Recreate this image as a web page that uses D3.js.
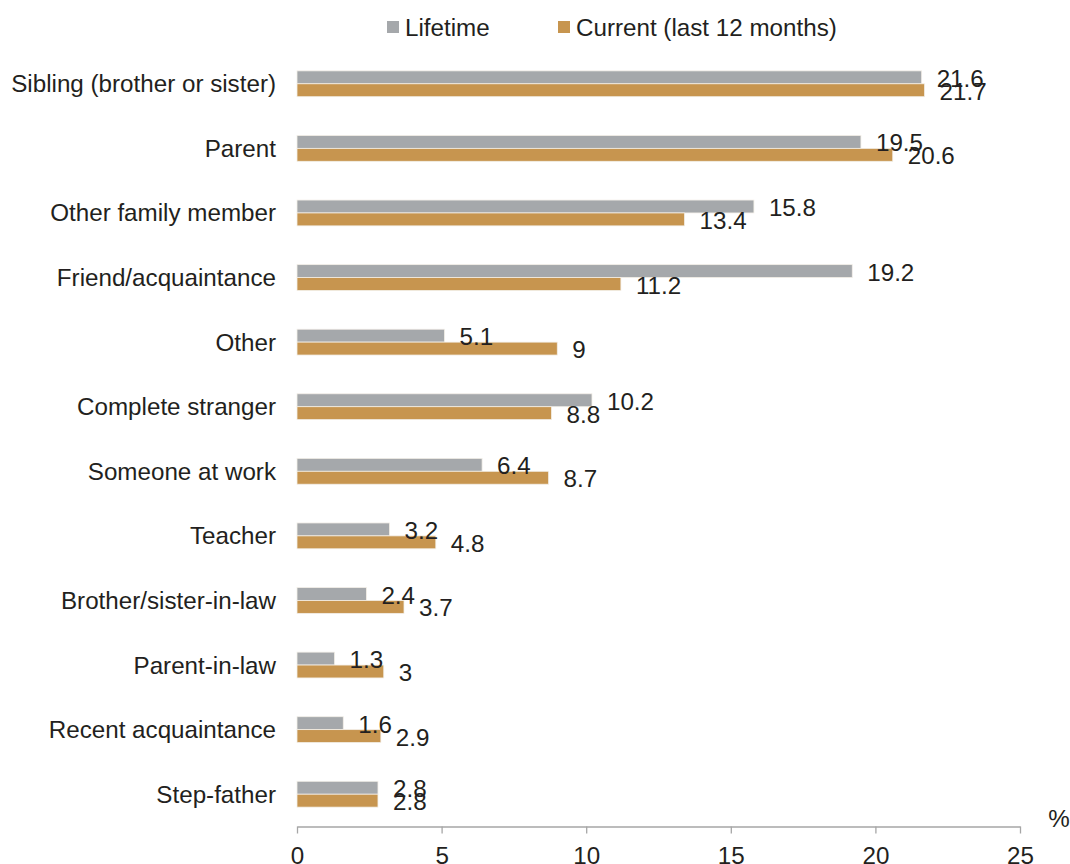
<!DOCTYPE html>
<html>
<head>
<meta charset="utf-8">
<script src="https://cdn.jsdelivr.net/npm/d3@7"></script>
<style>
  html, body { margin: 0; padding: 0; background: #fff; }
  svg { display: block; font-family: "Liberation Sans", Arial, sans-serif; }
</style>
</head>
<body>
<svg id="chart" width="1070" height="864"></svg>
<script>
// Perpetrator categories, top to bottom
const categories = [
  "Sibling (brother or sister)",
  "Parent",
  "Other family member",
  "Friend/acquaintance",
  "Other",
  "Complete stranger",
  "Someone at work",
  "Teacher",
  "Brother/sister-in-law",
  "Parent-in-law",
  "Recent acquaintance",
  "Step-father"
];
const lifetime = [21.6, 19.5, 15.8, 19.2, 5.1, 10.2, 6.4, 3.2, 2.4, 1.3, 1.6, 2.8];
const current  = [21.7, 20.6, 13.4, 11.2, 9, 8.8, 8.7, 4.8, 3.7, 3, 2.9, 2.8];
const seriesNames = ["Lifetime", "Current (last 12 months)"];
const xTicks = [0, 5, 10, 15, 20, 25];

const colors = ["#a5a8ab", "#c7954f"];
const textColor = "#231f20";
const fontSize = 24.2;

const svg = d3.select("#chart");
const plotLeft = 297, plotRight = 1020, plotTop = 51.5, axisY = 826.5;

const x = d3.scaleLinear().domain([0, 25]).range([plotLeft, plotRight]);
const y = d3.scaleBand().domain(categories).range([plotTop, axisY]).paddingInner(0.6).paddingOuter(0.3);
const sub = d3.scaleBand().domain([0, 1]).range([0, y.bandwidth()]);

const rows = categories.map((c, i) => ({ cat: c, vals: [lifetime[i], current[i]] }));

const g = svg.append("g");
const row = g.selectAll("g.row").data(rows).join("g")
  .attr("class", "row")
  .attr("transform", d => `translate(0,${y(d.cat)})`);

// Bars
row.selectAll("rect").data(d => d.vals.map((v, k) => ({ v, k }))).join("rect")
  .attr("x", x(0))
  .attr("y", d => sub(d.k))
  .attr("width", d => x(d.v) - x(0))
  .attr("height", sub.bandwidth())
  .attr("fill", d => colors[d.k])
  .attr("stroke", "#f3efe8")
  .attr("stroke-width", 0.8);

// Value labels
row.selectAll("text.val").data(d => d.vals.map((v, k) => ({ v, k }))).join("text")
  .attr("class", "val")
  .attr("x", d => x(d.v) + 15)
  .attr("y", d => sub(d.k) + sub.bandwidth() / 2 + 1)
  .attr("dominant-baseline", "central")
  .attr("font-size", fontSize)
  .attr("fill", textColor)
  .text(d => d.v);

// Category labels
g.selectAll("text.cat").data(categories).join("text")
  .attr("class", "cat")
  .attr("x", 276)
  .attr("y", d => y(d) + y.bandwidth() / 2)
  .attr("dominant-baseline", "central")
  .attr("text-anchor", "end")
  .attr("font-size", fontSize)
  .attr("fill", textColor)
  .text(d => d);

// X axis
const axis = svg.append("g")
  .attr("transform", `translate(0,${axisY})`)
  .call(d3.axisBottom(x).tickValues(xTicks).tickSize(7).tickPadding(13).tickSizeOuter(0));
axis.select(".domain").attr("stroke", "#a6a6a6").attr("stroke-width", 1.3);
axis.selectAll(".tick line").attr("stroke", "#a6a6a6").attr("stroke-width", 1.3);
axis.selectAll(".tick text")
  .attr("font-size", fontSize)
  .attr("font-family", "Liberation Sans, Arial, sans-serif")
  .attr("fill", textColor);

svg.append("text")
  .attr("x", 1059).attr("y", 818)
  .attr("text-anchor", "middle")
  .attr("dominant-baseline", "central")
  .attr("font-size", fontSize)
  .attr("fill", textColor)
  .text("%");

// Legend
const legendItems = [
  { name: seriesNames[0], color: colors[0], x: 387 },
  { name: seriesNames[1], color: colors[1], x: 558 }
];
const leg = svg.append("g").selectAll("g").data(legendItems).join("g")
  .attr("transform", d => `translate(${d.x},27)`);
leg.append("rect").attr("x", 0).attr("y", -6).attr("width", 12).attr("height", 12).attr("fill", d => d.color);
leg.append("text").attr("x", 18).attr("y", 0)
  .attr("dominant-baseline", "central")
  .attr("font-size", fontSize)
  .attr("fill", textColor)
  .text(d => d.name);
</script>
</body>
</html>
